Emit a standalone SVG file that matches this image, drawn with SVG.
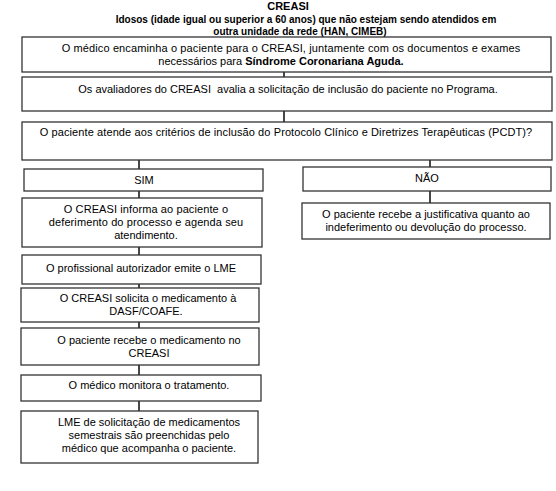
<svg xmlns="http://www.w3.org/2000/svg" width="556" height="491" viewBox="0 0 556 491">
<style>
.box{fill:#fff;stroke:#333;stroke-width:1.3}
.t{font-family:"Liberation Sans",Arial,sans-serif;font-size:11px;fill:#000;text-anchor:middle}
.h{font-family:"Liberation Sans",Arial,sans-serif;font-weight:bold;fill:#000;text-anchor:middle}
.c{stroke:#333;stroke-width:1.8;fill:none}
</style>
<rect width="556" height="491" fill="#fff"/>
<g id="header">
<text class="h" x="288" y="10" font-size="11">CREASI</text>
<text class="h" x="306" y="23" font-size="10">Idosos (idade igual ou superior a 60 anos) que não estejam sendo atendidos em</text>
<text class="h" x="300" y="35" font-size="10">outra unidade da rede (HAN, CIMEB)</text>
</g>
<g id="connectors">
<line class="c" x1="284" y1="72" x2="284" y2="77"/>
<line class="c" x1="284" y1="111" x2="284" y2="122"/>
<line class="c" x1="139" y1="160" x2="139" y2="169"/>
<line class="c" x1="430" y1="160" x2="430" y2="167"/>
<line class="c" x1="139" y1="191" x2="139" y2="198"/>
<line class="c" x1="430" y1="191" x2="430" y2="203"/>
<line class="c" x1="139" y1="247" x2="139" y2="255"/>
<line class="c" x1="139" y1="284" x2="139" y2="288"/>
<line class="c" x1="139" y1="322" x2="139" y2="328"/>
<line class="c" x1="139" y1="365" x2="139" y2="375"/>
<line class="c" x1="139" y1="401" x2="139" y2="411"/>
</g>
<g id="n1"><rect class="box" x="22" y="37" width="529" height="35"/>
<text class="t" x="291" y="52" letter-spacing="0.12">O médico encaminha o paciente para o CREASI, juntamente com os documentos e exames</text>
<text class="t" x="281" y="65">necessários para <tspan font-weight="bold">Síndrome Coronariana Aguda.</tspan></text></g>
<g id="n2"><rect class="box" x="22" y="77" width="530" height="34"/>
<text class="t" x="288" y="93" xml:space="preserve">Os avaliadores do CREASI  avalia a solicitação de inclusão do paciente no Programa.</text></g>
<g id="n3"><rect class="box" x="22" y="122" width="530" height="38"/>
<text class="t" x="286" y="136" letter-spacing="0.1">O paciente atende aos critérios de inclusão do Protocolo Clínico e Diretrizes Terapêuticas (PCDT)?</text></g>
<g id="sim"><rect class="box" x="24" y="169" width="239" height="22"/>
<text class="t" x="144" y="184">SIM</text></g>
<g id="nao"><rect class="box" x="303" y="167" width="248" height="24"/>
<text class="t" x="427" y="182">NÃO</text></g>
<g id="n4"><rect class="box" x="22" y="198" width="240" height="49"/>
<text class="t" x="146" y="213" letter-spacing="0.1">O CREASI informa ao paciente o</text>
<text class="t" x="146" y="226" letter-spacing="0.1">deferimento do processo e agenda seu</text>
<text class="t" x="146" y="239">atendimento.</text></g>
<g id="n5"><rect class="box" x="302" y="203" width="248" height="36"/>
<text class="t" x="426" y="218">O paciente recebe a justificativa quanto ao</text>
<text class="t" x="426" y="231">indeferimento ou devolução do processo.</text></g>
<g id="n6"><rect class="box" x="22" y="255" width="239" height="29"/>
<text class="t" x="141" y="272">O profissional autorizador emite o LME</text></g>
<g id="n7"><rect class="box" x="21" y="288" width="238" height="34"/>
<text class="t" x="148" y="302">O CREASI solicita o medicamento à</text>
<text class="t" x="146" y="315">DASF/COAFE.</text></g>
<g id="n8"><rect class="box" x="21" y="328" width="238" height="37"/>
<text class="t" x="149" y="344">O paciente recebe o medicamento no</text>
<text class="t" x="149" y="357">CREASI</text></g>
<g id="n9"><rect class="box" x="21" y="375" width="240" height="26"/>
<text class="t" x="149" y="389">O médico monitora o tratamento.</text></g>
<g id="n10"><rect class="box" x="21" y="411" width="237" height="52"/>
<text class="t" x="149" y="426">LME de solicitação de medicamentos</text>
<text class="t" x="149" y="439">semestrais são preenchidas pelo</text>
<text class="t" x="149" y="452">médico que acompanha o paciente.</text></g>
</svg>
